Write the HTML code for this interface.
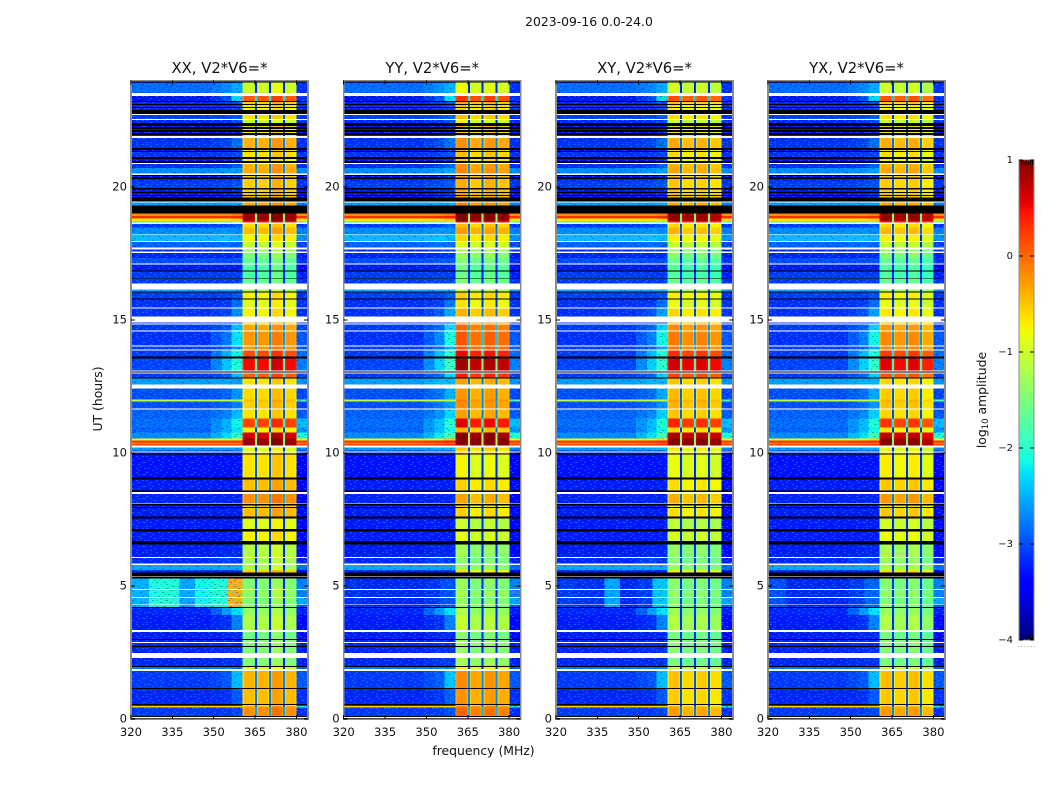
<!DOCTYPE html>
<html>
<head>
<meta charset="utf-8">
<title>2023-09-16 0.0-24.0</title>
<style>
html,body{margin:0;padding:0;background:#fff;width:1050px;height:800px;overflow:hidden}
svg{display:block}
text{font-family:"DejaVu Sans","Liberation Sans",sans-serif;fill:#111}
</style>
</head>
<body>
<svg id="figure" xmlns="http://www.w3.org/2000/svg" width="1050" height="800" viewBox="0 0 1050 800">
<defs><pattern id="speckle" patternUnits="userSpaceOnUse" width="48" height="24"></pattern></defs>
<text x="589" y="26" font-size="12.4" text-anchor="middle">2023-09-16 0.0-24.0</text>
<text x="483.5" y="755" font-size="12.4" text-anchor="middle">frequency (MHz)</text>
<text transform="translate(102,399) rotate(-90)" font-size="12.4" text-anchor="middle">UT (hours)</text>
<text transform="translate(986,400) rotate(-90)" font-size="12.4" text-anchor="middle">log<tspan font-size="8.5" dy="2">10</tspan><tspan dy="-2"> amplitude</tspan></text>
</svg>
<script>
// ---- chart data ----
var panelTitles = ["XX, V2*V6=*", "YY, V2*V6=*", "XY, V2*V6=*", "YX, V2*V6=*"];
var xTickValues = [320, 335, 350, 365, 380];
var yTickValues = [0, 5, 10, 15, 20];
var colorbarTicks = [1, 0, -1, -2, -3, -4];

// hour boundaries of the zones where each polarisation differs from XX
var zoneEdges = [0, 2.4, 5.3, 10, 15.5, 24];
var bandOffsetXX = [0, 0, 0, 0, 0];
var bandOffsetYY = [0.08, 0, -0.25, 0.22, 0.05];
var bandOffsetXY = [-0.22, -0.1, -0.32, 0.02, -0.1];
var bandOffsetYX = [-0.18, -0.1, -0.18, -0.05, -0.1];
var rollOffsetXX = [0, 0, 0, 0, 0];
var rollOffsetYY = [0.05, 0, 0, 0.15, 0.05];
var rollOffsetXY = [0, 0, 0, 0.1, 0];
var rollOffsetYX = [0, 0, 0, 0.1, 0];

// per sub-band level offsets (360-365, 365-370, 370-375, 375-380 MHz)
var subbandXX = [-0.05, -0.05, 0.1, -0.05];
var subbandYY = [0.1, -0.05, 0.05, -0.05];
var subbandXY = [0.1, -0.02, 0.05, -0.05];
var subbandYX = [0.08, 0, 0.08, -0.1];

// interference burst around 4.2-5.3 h: levels between rfiEdges (MHz)
var rfiStart = 4.2;
var rfiEnd = 5.29;
var rfiEdges = [320, 326.6, 337.5, 343.3, 349.3, 355, 360.5];
var rfiXX = [-2.5, -2.05, -2.55, -2.15, -2.05, -0.4];
var rfiYY = [-3.15, -3.2, -3.2, -3.2, -3.15, -3.0];
var rfiXY = [-3.1, -3.15, -2.55, -3.2, -3.1, -2.4];
var rfiYX = [-3.0, -3.2, -3.2, -3.2, -3.1, -2.9];

// each row: top hour, then log10 amplitude for background, roll-off A, roll-off B, band, tail
// "W" = flagged white, "K" = flagged black. A row ends where the next begins.
var timeRows = [
[24.00,"K"],[23.93,-3.3,-3.2,-3.15,-1.1,-3.3],[23.91,-2.85,-2.7,-2.55,-0.95,-3.15],[23.53,"W"],
[23.42,-3.3,-3.0,-2.3,0.15,-3.15],[23.23,"K"],[23.20,-3.2,-3.15,-3.05,-0.5,-3.15],[23.12,"K"],[23.08,-3.2,-3.15,-3.05,-0.6,-3.15],
[23.01,"K"],[22.97,-3.2,-3.15,-3.05,-0.7,-3.15],[22.89,"K"],[22.75,"W"],[22.71,-3.1,-3.05,-2.95,-0.6,-3.15],[22.56,"W"],
[22.52,-3.2,-3.15,-3.05,-1,-3.15],[22.41,"K"],[22.30,-3.3,-3.25,-3.2,-0.5,-3.3],[22.26,"K"],[22.18,-3.3,-3.25,-3.2,-0.7,-3.3],
[22.15,"K"],[22.07,-3.3,-3.25,-3.2,-0.6,-3.3],[22.03,"K"],[21.96,-3.3,-3.25,-3.2,-0.8,-3.3],[21.92,"W"],
[21.85,-3.15,-3.05,-2.85,-0.35,-3.15],[21.47,"K"],[21.39,-3.3,-3.25,-3.2,-0.6,-3.3],[21.36,"K"],[21.32,-3.15,-3.1,-3.05,-0.6,-3.15],
[21.13,"K"],[21.06,-3.3,-3.25,-3.2,-0.7,-3.3],[20.98,"K"],[20.91,"W"],[20.87,-3.15,-3.1,-2.95,-0.35,-3.15],
[20.72,-2.7,-2.65,-2.6,-0.3,-2.7],[20.50,"W"],[20.46,"K"],[20.42,-3.3,-3.25,-3.2,-0.5,-3.3],[20.35,"K"],
[20.31,-3.2,-3.15,-3.1,-0.5,-3.2],[20.23,-3.1,-3.05,-3,-0.5,-3.15],[19.97,"K"],[19.90,-3.3,-3.25,-3.2,-0.5,-3.3],[19.82,"K"],
[19.78,-3.3,-3.25,-3.2,-0.4,-3.3],[19.71,"K"],[19.67,-3.3,-3.25,-3.2,-0.4,-3.3],[19.60,"K"],[19.45,"W"],
[19.41,-2.6,-2.6,-2.55,-0.3,-2.75],[19.30,"K"],[19.00,-0.2,-0.2,-0.1,0.9,-0.2],[18.92,0.3,0.3,0.35,0.95,0.3],
[18.81,-0.7,-0.7,-0.6,0.9,-0.7],[18.73,-1.8,-1.7,-1.5,0.5,-1.7],[18.66,"W"],[18.62,-3.1,-3.05,-2.95,-0.6,-3.15],
[18.47,-2.7,-2.65,-2.7,-0.4,-2.75],[18.24,"W"],[18.21,-2.45,-2.4,-2.5,-0.7,-2.65],[17.98,"W"],[17.94,-2.9,-2.85,-2.9,-1,-3.05],
[17.72,"W"],[17.66,-3.2,-3.15,-3.15,-1.3,-3.15],[17.57,"W"],[17.53,-3.2,-3.2,-3.2,-1.4,-3.25],[17.34,-3,-3,-3,-1.6,-3.15],
[17.12,"W"],[17.08,-3.25,-3.25,-3.25,-1.7,-3.35],[16.86,"K"],[16.82,-3.1,-3.1,-3.15,-1.7,-3.25],[16.59,"K"],
[16.56,-3.1,-3.1,-3.1,-1.6,-3.15],[16.37,"W"],[16.14,-2.5,-2.5,-2.5,-1.2,-2.65],[16.07,"K"],[16.03,-3.1,-3.1,-3,-0.7,-3.15],
[15.81,"K"],[15.77,-3.15,-3.1,-2.85,-0.8,-3.15],[15.47,"W"],[15.43,-3.15,-3.05,-2.7,-0.7,-3.15],[15.13,"W"],
[14.90,-3.1,-3.15,-3.2,-0.5,-3.15],[14.87,"W"],[14.83,-3.1,-2.95,-2.45,-0.3,-3.05],[14.60,"W"],[14.57,-3.15,-2.8,-2.25,-0.2,-2.95],
[14.04,"W"],[14.00,-3.1,-2.95,-2.65,-0.2,-2.95],[13.89,"W"],[13.85,-3.1,-2.5,-2.15,0.2,-2.85],[13.63,"K"],
[13.55,-3.05,-2.4,-2.05,0.55,-2.75],[13.10,"W"],[13.07,"K"],[13.03,"W"],[12.99,-3.1,-2.95,-2.45,0.1,-3.05],[12.84,"K"],
[12.80,-2.6,-2.55,-2.6,-0.6,-2.65],[12.58,"W"],[12.43,-3,-2.9,-2.65,-0.55,-3.05],[12.02,-1.1,-1.1,-1.3,-0.4,-1.75],
[11.94,-3,-2.9,-2.75,-0.5,-3.05],[11.68,"W"],[11.64,-2.9,-2.75,-2.45,-0.6,-2.95],[11.30,-2.85,-2.5,-2.15,0.25,-2.45],
[10.97,-2.9,-2.5,-2.25,-0.7,-2.65],[10.78,-2.7,-2.3,-1.95,0.7,-2.05],[10.55,-0.8,-0.8,-0.7,0.95,-0.8],
[10.48,0.3,0.3,0.3,0.95,0.3],[10.40,-0.1,-0.1,-0.1,0.95,-0.1],[10.33,0.4,0.4,0.4,0.95,0.4],[10.29,"W"],
[10.21,-2.6,-2.6,-2.6,-0.8,-2.75],[10.10,-3.1,-3.15,-3.2,-1,-3.15],[10.06,"W"],[10.03,-3.2,-3.2,-3.2,-0.7,-3.25],[9.99,"K"],
[9.95,-3.3,-3.3,-3.3,-0.6,-3.4],[9.09,"K"],[9.01,-3.25,-3.25,-3.25,-0.4,-3.35],[8.60,"K"],[8.53,"W"],
[8.47,-3.2,-3.2,-3.2,-0.15,-3.35],[8.11,"W"],[8.08,"K"],[8.04,-3.2,-3.2,-3.2,-0.5,-3.25],[7.98,"K"],
[7.93,-3.25,-3.25,-3.25,-0.4,-3.35],[7.62,"K"],[7.55,-3.25,-3.25,-3.25,-0.85,-3.35],[7.14,"K"],
[7.06,-3.25,-3.25,-3.25,-0.7,-3.35],[6.69,"K"],[6.57,-3.25,-3.2,-3.2,-1.1,-3.35],[6.09,"W"],
[6.05,-3.2,-3.05,-3.15,-1.2,-3.25],[5.86,"W"],[5.80,-2.55,-2.55,-2.55,-1.1,-2.85],[5.60,-3.2,-3.2,-3.2,-0.5,-3.35],
[5.52,"K"],[5.37,"W"],[5.34,"K"],[5.28,-3.1,-3.1,-3.1,-1.4,-2.75],[4.89,"W"],[4.85,-3.1,-3.1,-3.1,-1.3,-2.75],[4.59,"W"],
[4.55,-3.1,-3.1,-3.1,-1.4,-2.55],[4.32,"W"],[4.29,-3.1,-3.1,-3.1,-1.4,-2.95],[4.21,"K"],[4.17,-3.2,-2.6,-2.25,-1.3,-3.25],
[3.91,-3.25,-3.15,-2.75,-1.15,-3.35],[3.35,"W"],[3.27,-3.25,-3.2,-3.2,-1.5,-3.35],[3.01,"K"],[2.97,-3.2,-3.15,-3.2,-1.4,-3.25],
[2.90,"W"],[2.86,-3.2,-3.15,-3.2,-1.4,-3.25],[2.75,"K"],[2.71,-3.2,-3.15,-3.15,-1.4,-3.25],[2.48,"W"],
[2.30,-3.2,-3.15,-3.15,-1.4,-3.25],[2.00,"K"],[1.96,-2.8,-2.75,-2.8,-0.9,-2.95],[1.88,"W"],[1.81,-3.1,-2.95,-2.45,-0.35,-2.95],
[1.17,"K"],[1.13,-3.2,-3.15,-2.95,-0.4,-3.15],[0.57,"K"],[0.53,-3.1,-3.15,-3.15,-0.6,-3.15],[0.50,-0.5,-0.8,-1.3,-0.3,-2.15],
[0.44,-3.1,-3.15,-3.05,-0.15,-3.15],[0.12,"K"],[0.08,"W"],[0.05,"K"]
];

// hand-typed grain tile (0 none, 1 lighter, 2 darker)
var speckleTile = [
"010020100012001000201001",
"200100002100020010000120",
"001002010000100200100200",
"100010200120001001020001",
"020100001002010000100100",
"000201000100002102000210",
"101000120002100001001002",
"002010001000020100200100",
"010002100201000010001020",
"100100000010201002000101",
"002001020100000200100002",
"010100002001001000021000"
];

// matplotlib "jet" anchors
var jetR = [[0,0],[0.35,0],[0.66,1],[0.89,1],[1,0.5]];
var jetG = [[0,0],[0.125,0],[0.375,1],[0.64,1],[0.91,0],[1,0]];
var jetB = [[0,0.5],[0.11,1],[0.34,1],[0.65,0],[1,0]];

// ---- scales ----
var SVGNS = "http://www.w3.org/2000/svg";
var figure = document.getElementById("figure");
var panelLefts = [131, 343.7, 556, 768];
var panelWidth = 177;
var panelTop = 80.6;
var panelBottom = 719.2;
var freqMin = 320;
var freqMax = 384.2;
var colorMin = -4;
var colorMax = 1;
var cbLeft = 1019;
var cbWidth = 15;
var cbTop = 160;
var cbBottom = 640;

function xScale(panel, f) { return panelLefts[panel] + (f - freqMin) / (freqMax - freqMin) * panelWidth; }
function yScale(h) { return panelBottom - h / 24 * (panelBottom - panelTop); }
function cbScale(v) { return cbBottom - (v - colorMin) / (colorMax - colorMin) * (cbBottom - cbTop); }
function lerp(tbl, t) {
  for (var i = 1; i < tbl.length; i++) {
    if (t <= tbl[i][0]) {
      var a = tbl[i - 1], b = tbl[i];
      return a[1] + (b[1] - a[1]) * (t - a[0]) / (b[0] - a[0]);
    }
  }
  return tbl[tbl.length - 1][1];
}
function colorFor(v) {
  var t = Math.max(0, Math.min(1, (v - colorMin) / (colorMax - colorMin)));
  return "rgb(" + Math.round(lerp(jetR, t) * 255) + "," + Math.round(lerp(jetG, t) * 255) + "," + Math.round(lerp(jetB, t) * 255) + ")";
}
function mk(tag, attrs, parent) {
  var el = document.createElementNS(SVGNS, tag);
  for (var k in attrs) el.setAttribute(k, attrs[k]);
  parent.appendChild(el);
  return el;
}
function zoneIndex(h) {
  for (var i = 0; i < zoneEdges.length - 1; i++) if (h < zoneEdges[i + 1]) return i;
  return zoneEdges.length - 2;
}

// grain tile
var tile = document.getElementById("speckle");
speckleTile.forEach(function (line, r) {
  for (var c = 0; c < line.length; c++) {
    if (line[c] === "0") continue;
    var grain = mk("rect", {x: c * 2, y: r * 2, width: 2, height: 1,
      fill: line[c] === "1" ? "rgba(0,190,255,0.42)" : "rgba(0,0,150,0.35)"}, tile);
    
    
  }
});

var bandOffsets = [bandOffsetXX, bandOffsetYY, bandOffsetXY, bandOffsetYX];
var rollOffsets = [rollOffsetXX, rollOffsetYY, rollOffsetXY, rollOffsetYX];
var subbandOffsets = [subbandXX, subbandYY, subbandXY, subbandYX];
var rfiLevels = [rfiXX, rfiYY, rfiXY, rfiYX];

function addCell(group, panel, f0, f1, top, bottom, value) {
  var cell = mk("rect", {
    x: xScale(panel, f0).toFixed(2), y: yScale(top).toFixed(2),
    width: (xScale(panel, f1) - xScale(panel, f0)).toFixed(2),
    height: (yScale(bottom) - yScale(top)).toFixed(2),
    fill: colorFor(value)
  }, group);
  
  
}
function addGrain(group, panel, f0, f1, top, bottom) {
  var g = mk("rect", {
    x: xScale(panel, f0).toFixed(2), y: yScale(top).toFixed(2),
    width: (xScale(panel, f1) - xScale(panel, f0)).toFixed(2),
    height: (yScale(bottom) - yScale(top)).toFixed(2),
    fill: "url(#speckle)"
  }, group);
  
  
}

panelTitles.forEach(function (title, p) {
  var panel = mk("g", {"shape-rendering": "crispEdges"}, figure);
  
  

  timeRows.forEach(function (row, i) {
    var top = row[0];
    var bottom = i + 1 < timeRows.length ? timeRows[i + 1][0] : 0;
    if (row[1] === "W" || row[1] === "K") {
      var flag = mk("rect", {
        x: xScale(p, freqMin).toFixed(2), y: yScale(top).toFixed(2), width: panelWidth,
        height: (yScale(bottom) - yScale(top)).toFixed(2),
        fill: row[1] === "W" ? "#ffffff" : "#000000"
      }, panel);
      
      
      return;
    }
    var zone = zoneIndex((top + bottom) / 2);
    var roll = rollOffsets[p][zone];
    var band = row[4] + bandOffsets[p][zone];
    var isRfi = top <= rfiEnd && bottom >= rfiStart;
    if (isRfi) {
      rfiLevels[p].forEach(function (lvl, k) {
        addCell(panel, p, rfiEdges[k], rfiEdges[k + 1], top, bottom, lvl);
      });
    } else {
      var levelA = Math.max(row[1], row[2] + roll * 0.6);
      var levelB = Math.max(row[1], row[3] + roll);
      addCell(panel, p, 320, 349, top, bottom, row[1]);
      addCell(panel, p, 349, 353, top, bottom, (row[1] + levelA) / 2);
      addCell(panel, p, 353, 356.5, top, bottom, levelA);
      addCell(panel, p, 356.5, 360.5, top, bottom, levelB);
    }
    if (row[1] < -1.5) addGrain(panel, p, 320, 360.5, top, bottom);

    subbandOffsets[p].forEach(function (off, s) {
      var start = s === 0 ? 360.5 : 365 + (s - 1) * 5.03 + 0.75;
      var stop = 365 + s * 5.03;
      var v = Math.min(0.98, band + off);
      addCell(panel, p, start, start + 0.4, top, bottom, v - 0.2);
      addCell(panel, p, start + 0.4, stop - 0.4, top, bottom, v);
      addCell(panel, p, stop - 0.4, stop, top, bottom, v - 0.15);
      addCell(panel, p, stop, stop + 0.75, top, bottom, Math.max(-3.2, band - 2.4));
    });
    addCell(panel, p, 380.1, freqMax, top, bottom, row[5]);
    if (row[5] < -1.5) addGrain(panel, p, 380.1, freqMax, top, bottom);
  });

  // frame
  var frame = mk("rect", {x: panelLefts[p], y: panelTop, width: panelWidth, height: panelBottom - panelTop,
    fill: "none", stroke: "#8c8c8c", "stroke-width": 1.6}, panel);
  
  

  // x ticks
  xTickValues.forEach(function (f) {
    var x = xScale(p, f);
    [[panelBottom, panelBottom - 4], [panelTop, panelTop + 4]].forEach(function (s) {
      var t = mk("line", {x1: x, x2: x, y1: s[0], y2: s[1], stroke: "#000", "stroke-width": 1}, panel);
      
      
    });
    var lab = mk("text", {x: x, y: 736, "font-size": 11.6, "text-anchor": "middle"}, figure);
    lab.textContent = f;
    
    
  });

  // y ticks
  yTickValues.forEach(function (h) {
    var y = yScale(h);
    var left = panelLefts[p];
    [[left, left + 4], [left + panelWidth, left + panelWidth - 4]].forEach(function (s) {
      var t = mk("line", {x1: s[0], x2: s[1], y1: y, y2: y, stroke: "#000", "stroke-width": 1}, panel);
      
      
    });
    var lab = mk("text", {x: left - 4, y: y + 3.5, "font-size": 11.6, "text-anchor": "end"}, figure);
    lab.textContent = h;
    
    
  });

  var ttl = mk("text", {x: panelLefts[p] + panelWidth / 2, y: 73, "font-size": 14.8, "text-anchor": "middle"}, figure);
  ttl.textContent = title;
  
  
});

// ---- colorbar ----
var cb = mk("g", {"shape-rendering": "crispEdges"}, figure);


for (var yy = cbTop; yy < cbBottom; yy += 2) {
  var level = colorMax - (yy + 1 - cbTop) / (cbBottom - cbTop) * (colorMax - colorMin);
  var swatch = mk("rect", {x: cbLeft, y: yy, width: cbWidth, height: 2.2, fill: colorFor(level)}, cb);
  
  
}
var cbFrame = mk("rect", {x: cbLeft, y: cbTop, width: cbWidth, height: cbBottom - cbTop, fill: "none", stroke: "#8c8c8c", "stroke-width": 1.4}, cb);


colorbarTicks.forEach(function (v) {
  var y = cbScale(v);
  [[cbLeft, cbLeft + 4], [cbLeft + cbWidth, cbLeft + cbWidth - 4]].forEach(function (s) {
    var t = mk("line", {x1: s[0], x2: s[1], y1: y, y2: y, stroke: "#000", "stroke-width": 1}, cb);
    
    
  });
  var lab = mk("text", {x: 1013, y: y + 3, "font-size": 10, "text-anchor": "end"}, figure);
  lab.textContent = String(v).replace("-", "\u2212");
  
  
});
for (var m = 0; m < 6; m++) {
  [[cbTop, cbTop + 5], [cbBottom, cbBottom - 5]].forEach(function (s) {
    var t = mk("line", {x1: cbLeft + 2.5 + m * 2.2, x2: cbLeft + 2.5 + m * 2.2, y1: s[0], y2: s[1], stroke: "#000", "stroke-width": 0.7}, cb);
    
    
  });
  var dot = mk("rect", {x: cbLeft - 1 + m * 3.2, y: 646, width: 1, height: 1, fill: "#aaa"}, cb);
  
  
}
</script>
</body>
</html>
